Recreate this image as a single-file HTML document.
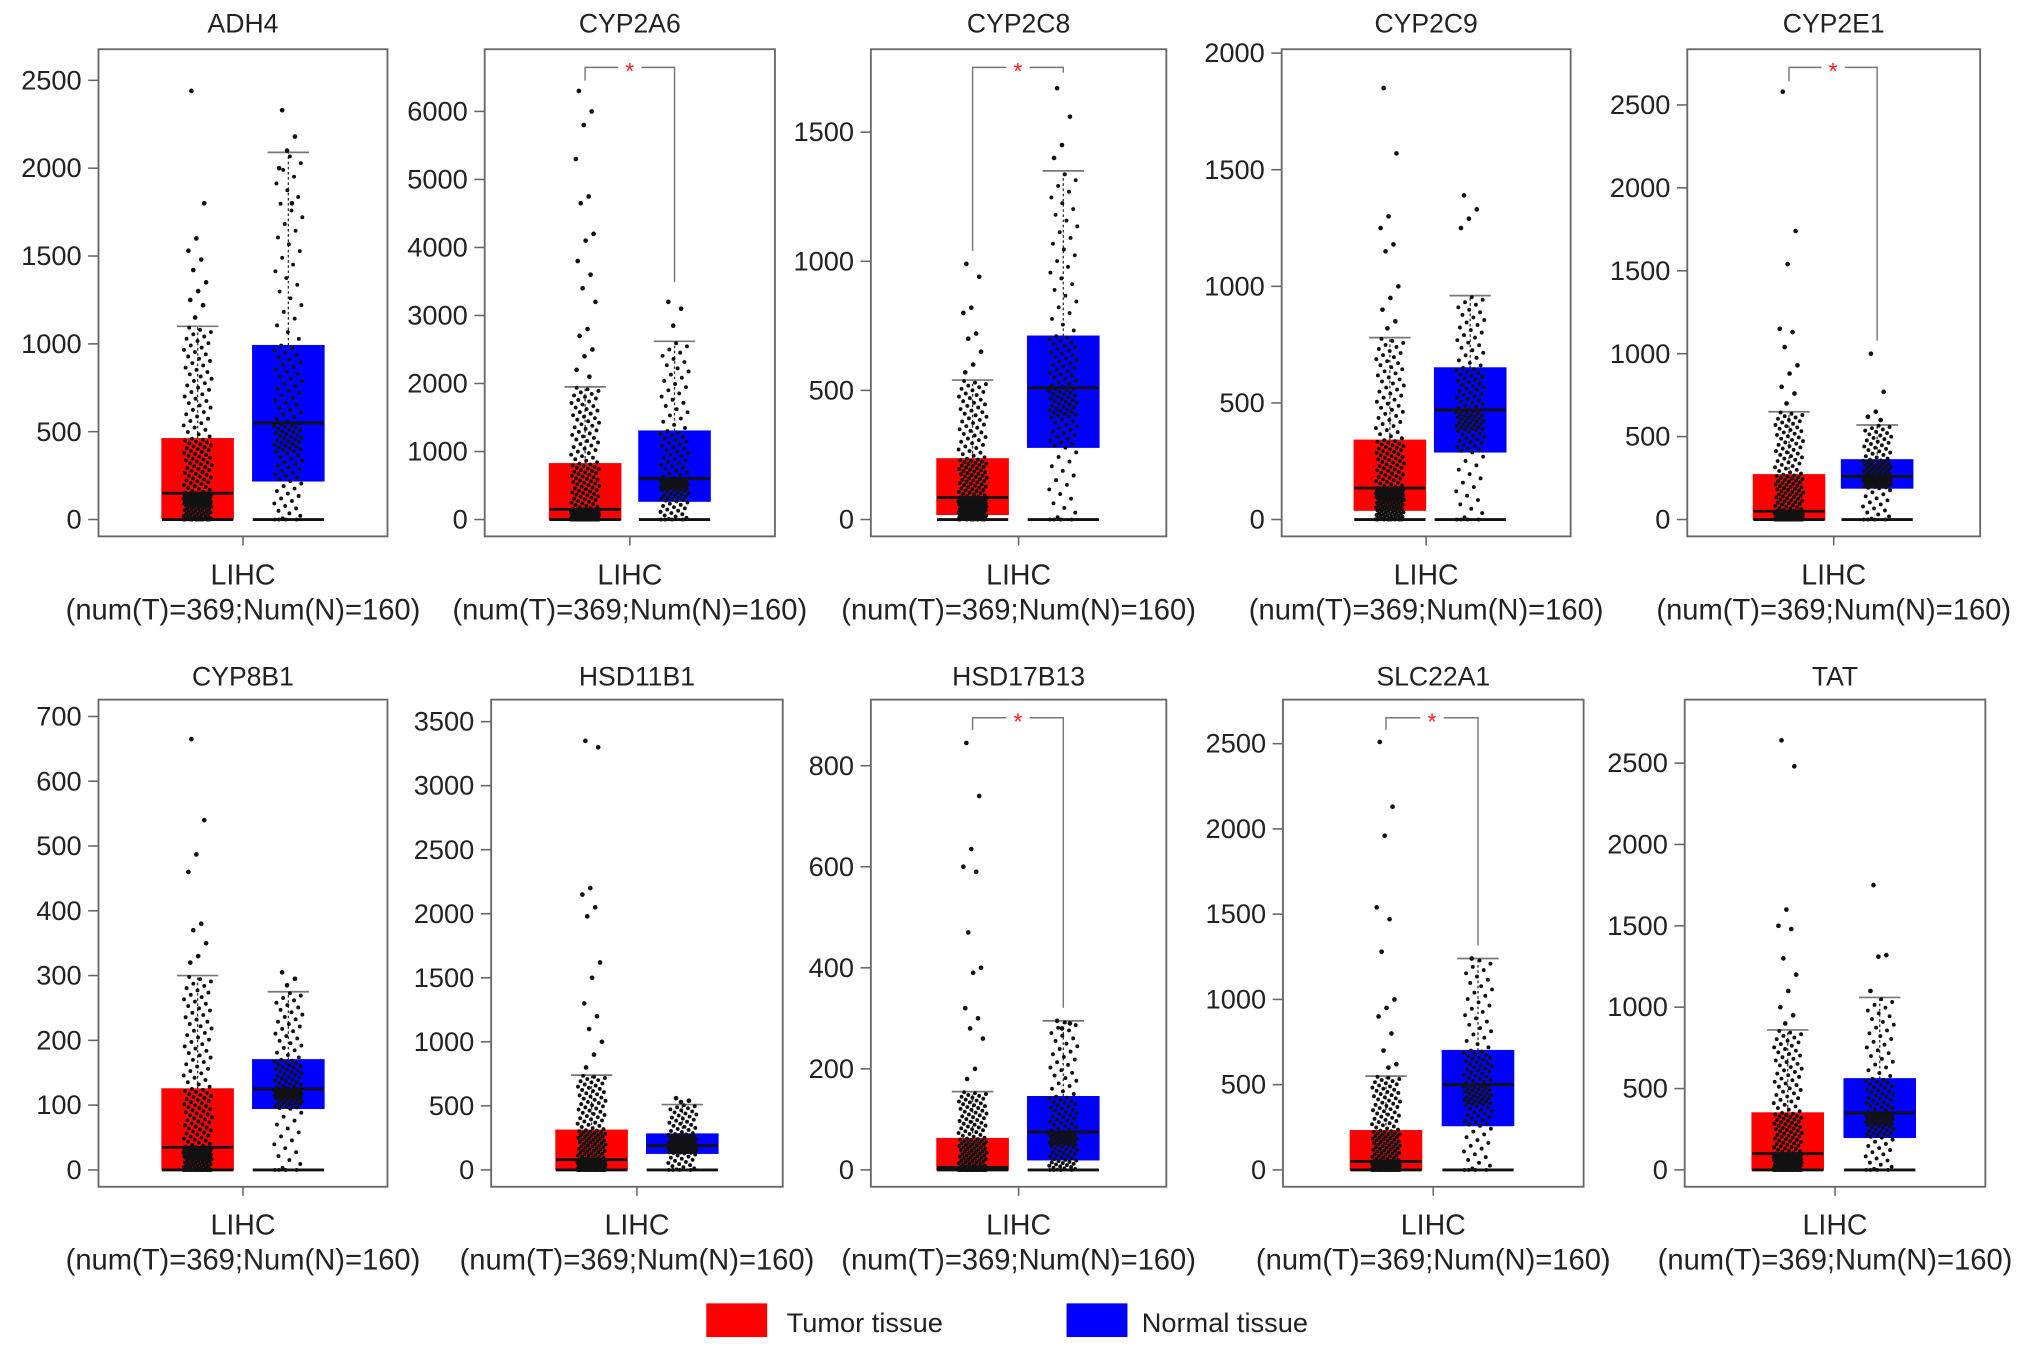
<!DOCTYPE html>
<html><head><meta charset="utf-8"><style>
html,body{margin:0;padding:0;background:#fff;}
svg{display:block;font-family:"Liberation Sans",Arial,sans-serif;}
</style></head><body>
<svg id="fig" width="2032" height="1350" viewBox="0 0 1568 1042" preserveAspectRatio="none" xmlns="http://www.w3.org/2000/svg">
<g>
<rect x="545" y="1006" width="47" height="26" fill="#ff0000"/>
<text x="607" y="1028" font-size="21" fill="#222">Tumor tissue</text>
<rect x="823" y="1006" width="47" height="26" fill="#0000ff"/>
<text x="881" y="1028" font-size="21" fill="#222">Normal tissue</text>
</g>
</svg>
<script>
// ---- data ----
const genes = ["ADH4","CYP2A6","CYP2C8","CYP2C9","CYP2E1","CYP8B1","HSD11B1","HSD17B13","SLC22A1","TAT"];
const yTicks = [[0,500,1000,1500,2000,2500],[0,1000,2000,3000,4000,5000,6000],[0,500,1000,1500],[0,500,1000,1500,2000],[0,500,1000,1500,2000,2500],[0,100,200,300,400,500,600,700],[0,500,1000,1500,2000,2500,3000,3500],[0,200,400,600,800],[0,500,1000,1500,2000,2500],[0,500,1000,1500,2000,2500]];
const tumorQ1 = [5,0,20,40,0,0,0,0,0,0];
const tumorMed = [150,150,85,135,50,35,80,5,50,100];
const tumorQ3 = [460,820,235,340,270,125,310,62,230,350];
const tumorWhisk = [1100,1950,540,780,650,300,740,155,550,860];
const normalQ1 = [220,270,280,290,190,95,130,20,260,200];
const normalMed = [550,600,510,470,260,125,190,75,500,350];
const normalQ3 = [990,1300,710,650,360,170,280,145,700,560];
const normalWhisk = [2090,2620,1350,960,570,275,510,295,1240,1060];
const tumorOutliers = [[2440,1800,1600,1530,1480,1420,1350,1300,1250,1220,1150],[6300,6000,5800,5300,4750,4650,4200,4100,3800,3600,3400,3200,2800,2700,2500,2400,2200,2100],[990,940,820,800,720,700,650,600,570],[1850,1570,1300,1250,1180,1150,1000,950,900,850,820],[2580,1740,1540,1150,1130,1040,930,880,800,760,700],[665,540,487,460,380,370,350,330,320],[3350,3300,2200,2150,2050,1980,1620,1500,1300,1200,1100,1000,900,800],[845,740,635,600,590,470,400,390,320,300,280,260,200,180],[2510,2130,1960,1540,1470,1280,1000,950,900,800,700,620,600],[2640,2480,1600,1500,1480,1300,1200,1100,1000,950,900]];
const normalOutliers = [[2330,2180,2100,2000,1800],[3200,3100,2850],[1670,1560,1450,1400],[1390,1330,1290,1250],[1000,770,650,620,600],[305,295,285],[560,540,530],[295,290,280],[1240],[1750,1320,1310,1100]];
const sigLeft = [null,6300,1000,null,2580,null,null,850,2520,null];
const sigRight = [null,3300,1680,null,1000,null,null,295,1240,null];
// ---- layout ----
const frames = [[76,299],[374,598],[672,900],[989,1212],[1302,1528],[76,299],[379,604],[672,900],[990,1222],[1300,1532]];
const tickTopPix = [62,86,102,41,81,553,557,591,574,589];
const boxTX = [125,424,723,1045,1353,125,429,723,1042,1352];
const boxNX = [195,493,793,1107,1421,195,499,793,1113,1423];
const BW = 55;
const svg = document.getElementById('fig');
const NS = 'http://www.w3.org/2000/svg';
function mk(tag, attrs, parent){const e=document.createElementNS(NS,tag);for(const k in attrs)e.setAttribute(k,attrs[k]);(parent||svg).appendChild(e);return e;}
function frac(x){return x-Math.floor(x);}
genes.forEach((g,i)=>{
  const row = i<5?0:1;
  const top = row===0?38:540, bot = row===0?414:916, zeroY = row===0?401:903;
  const [x0,x1]=frames[i];
  const ticks=yTicks[i];
  const maxT=ticks[ticks.length-1];
  const y = v => zeroY - (zeroY - tickTopPix[i]) * v / maxT;
  const grp = mk('g',{});
  
  
  const t = mk('text',{x:(x0+x1)/2,y:row===0?25:529,'font-size':20.5,'text-anchor':'middle',fill:'#222'},grp);
  t.textContent=g;
  
  
  const fr = mk('rect',{x:x0,y:top,width:x1-x0,height:bot-top,fill:'none',stroke:'#666','stroke-width':1.4},grp);
  
  
  ticks.forEach(v=>{
    const tl = mk('line',{x1:x0-8,x2:x0,y1:y(v),y2:y(v),stroke:'#666','stroke-width':1.2},grp);
    
    
    const tx = mk('text',{x:x0-13,y:y(v)+7,'font-size':21,'text-anchor':'end',fill:'#222'},grp);
    tx.textContent=v;
    
    
  });
  const cx=(x0+x1)/2;
  mk('line',{x1:cx,x2:cx,y1:bot,y2:bot+7,stroke:'#666','stroke-width':1.2},grp);
  const l1 = mk('text',{x:cx,y:bot+37,'font-size':22,'text-anchor':'middle',fill:'#222'},grp);
  l1.textContent='LIHC';
  
  
  const l2 = mk('text',{x:cx,y:bot+64,'font-size':22.5,'text-anchor':'middle',fill:'#222'},grp);
  l2.textContent='(num(T)=369;Num(N)=160)';
  
  
  const series=[
    {bx:boxTX[i],q1:tumorQ1[i],md:tumorMed[i],q3:tumorQ3[i],wh:tumorWhisk[i],out:tumorOutliers[i],col:'#ff0000',name:'tumor',n:230},
    {bx:boxNX[i],q1:normalQ1[i],md:normalMed[i],q3:normalQ3[i],wh:normalWhisk[i],out:normalOutliers[i],col:'#0000ff',name:'normal',n:130}];
  series.forEach((s,si)=>{
    const c=s.bx+BW/2;
    const wl = mk('line',{x1:c,x2:c,y1:y(s.q3),y2:y(s.wh),stroke:'#333','stroke-width':1,'stroke-dasharray':'2,2'},grp);
    
    
    const cap = mk('line',{x1:c-16,x2:c+16,y1:y(s.wh),y2:y(s.wh),stroke:'#777','stroke-width':1.3},grp);
    
    
    const box = mk('rect',{x:s.bx,y:y(s.q3),width:BW,height:y(s.q1)-y(s.q3),fill:s.col,stroke:s.col,'stroke-width':1},grp);
    
    
    const base = mk('line',{x1:s.bx,x2:s.bx+BW,y1:y(0),y2:y(0),stroke:'#111','stroke-width':2.2},grp);
    
    
    const med = mk('line',{x1:s.bx,x2:s.bx+BW,y1:y(s.md),y2:y(s.md),stroke:'#111','stroke-width':2.2},grp);
    
    
    const qs=[[0,0],[0.12,s.q1],[0.25,s.q1+(s.md-s.q1)*0.5],[0.5,s.md],[0.75,s.q3],[0.97,s.wh]];
    for(let k=0;k<s.n;k++){
      const p=(k+0.5)/s.n;
      let v=0;
      for(let j=1;j<qs.length;j++){if(p<=qs[j][0]){const a=qs[j-1],b=qs[j];v=a[1]+(b[1]-a[1])*(p-a[0])/(b[0]-a[0]);break;}}
      const jx=c+(frac(k*0.618034+si*0.3)-0.5)*22;
      const d = mk('circle',{cx:jx,cy:y(v),r:1.5,fill:'#111'},grp);
      
      
    }
    s.out.forEach((v,k)=>{
      const jx=c+(frac(k*0.618034+0.2)-0.5)*16;
      const d = mk('circle',{cx:jx,cy:y(v),r:1.8,fill:'#111'},grp);
      
      
    });
  });
  if(sigLeft[i]!==null){
    const by=top+14;
    const lx=boxTX[i]+BW/2, rx=boxNX[i]+BW/2;
    const br = mk('path',{d:`M${lx},${y(sigLeft[i])-8} L${lx},${by} L${rx},${by} L${rx},${y(sigRight[i])-10}`,fill:'none',stroke:'#777','stroke-width':1.1},grp);
    
    
    mk('rect',{x:(lx+rx)/2-9,y:by-5,width:18,height:10,fill:'#fff'},grp);
    const st = mk('text',{x:(lx+rx)/2,y:by+9,'font-size':18,'text-anchor':'middle',fill:'#ff2020'},grp);
    st.textContent='*';
    
    
  }
});
</script>
</body></html>
